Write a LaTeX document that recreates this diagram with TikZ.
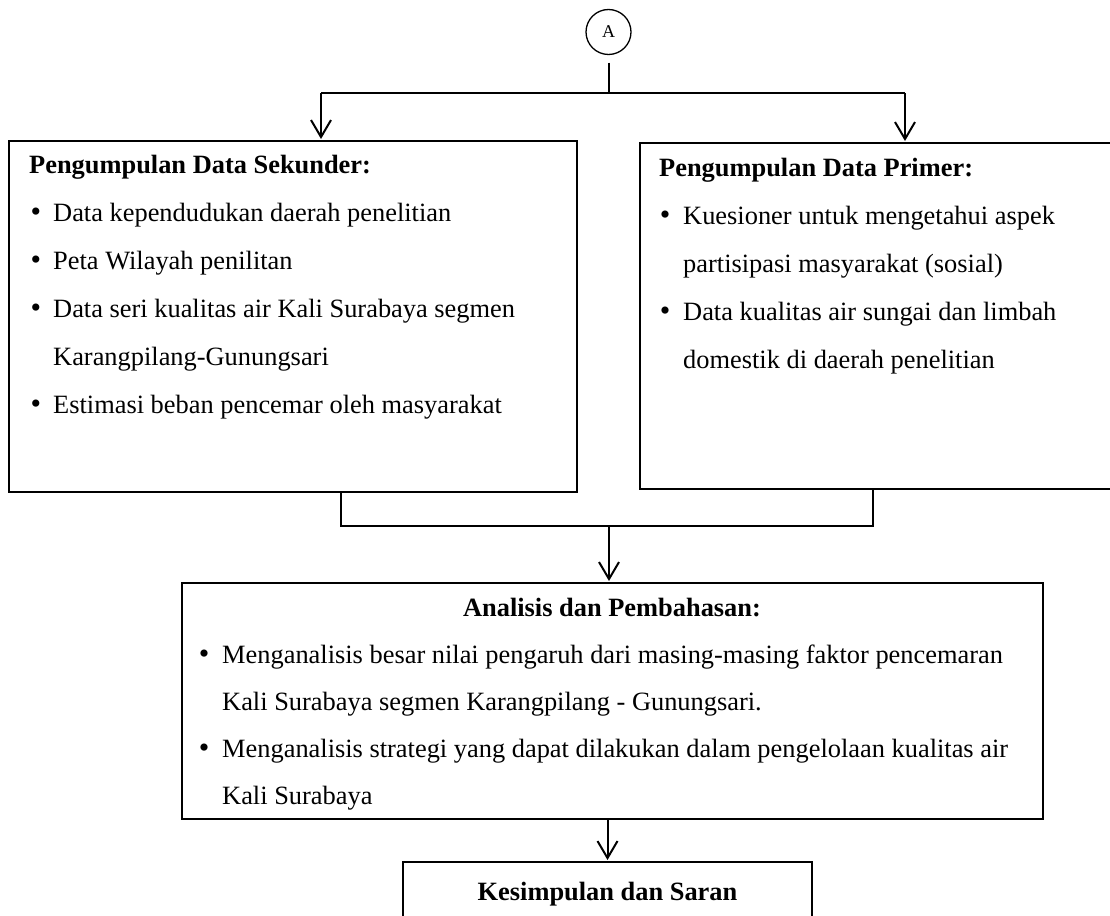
\documentclass[tikz,border=0pt]{standalone}
\usepackage{fontspec}
\setmainfont{Liberation Serif}
\usetikzlibrary{arrows.meta}

\begin{document}
\begin{tikzpicture}[x=1pt,y=-1pt,
  box/.style={draw, rectangle, line width=2pt, inner sep=0pt, outer sep=0pt, anchor=north west},
  conn/.style={line width=2pt},
  arr/.style={-{Straight Barb[length=17pt,width=20pt]}, shorten >=2pt},
  txt/.style={anchor=base west, inner sep=0pt, font=\fontsize{26.4}{30}\selectfont},
  ttl/.style={txt, font=\fontsize{26.4}{30}\selectfont\bfseries},
  ctl/.style={ttl, anchor=base},
  bul/.style={anchor=base, inner sep=0pt, font=\fontsize{30}{30}\selectfont}
]
\useasboundingbox (0,0) rectangle (1110,915);

% connector circle
\node[draw, circle, line width=1.3pt, minimum size=45pt, inner sep=0pt,
      font=\fontsize{18}{18}\selectfont] (A) at (608.5,32) {A};

% boxes
\node[box, minimum width=568pt, minimum height=351pt] (sek) at (9,141) {};
\node[box, minimum width=490pt, minimum height=346pt] (prim) at (640,143) {};
\node[box, minimum width=861pt, minimum height=236pt] (ana) at (182,583) {};
\node[box, minimum width=409pt, minimum height=80pt] (kes) at (403,862) {};

% secondary data
\node[ttl] (sekT) at (29,173) {Pengumpulan Data Sekunder:};
\node[bul] (sekB1) at (36,221) {\textbullet};
\node[txt] (sek1) at (53,221) {Data kependudukan daerah penelitian};
\node[bul] (sekB2) at (36,269) {\textbullet};
\node[txt] (sek2) at (53,269) {Peta Wilayah penilitan};
\node[bul] (sekB3) at (36,317) {\textbullet};
\node[txt] (sek3) at (53,317) {Data seri kualitas air Kali Surabaya segmen};
\node[txt] (sek3b) at (53,365) {Karangpilang-Gunungsari};
\node[bul] (sekB4) at (36,413) {\textbullet};
\node[txt] (sek4) at (53,413) {Estimasi beban pencemar oleh masyarakat};

% primary data
\node[ttl] (primT) at (659,176) {Pengumpulan Data Primer:};
\node[bul] (primB1) at (665,224) {\textbullet};
\node[txt] (prim1) at (683,224) {Kuesioner untuk mengetahui aspek};
\node[txt] (prim1b) at (683,272) {partisipasi masyarakat (sosial)};
\node[bul] (primB2) at (665,320) {\textbullet};
\node[txt] (prim2) at (683,320) {Data kualitas air sungai dan limbah};
\node[txt] (prim2b) at (683,368) {domestik di daerah penelitian};

% analysis
\node[ctl] (anaT) at (612,616) {Analisis dan Pembahasan:};
\node[bul] (anaB1) at (204,663) {\textbullet};
\node[txt] (ana1) at (222,663) {Menganalisis besar nilai pengaruh dari masing-masing faktor pencemaran};
\node[txt] (ana1b) at (222,710) {Kali Surabaya segmen Karangpilang - Gunungsari.};
\node[bul] (anaB2) at (204,757) {\textbullet};
\node[txt] (ana2) at (222,757) {Menganalisis strategi yang dapat dilakukan dalam pengelolaan kualitas air};
\node[txt] (ana2b) at (222,804) {Kali Surabaya};

% conclusion
\node[ctl] (kesT) at (607.5,900) {Kesimpulan dan Saran};

% split below the circle
\coordinate (topL) at (321,93);
\coordinate (topR) at (905,93);
\draw[conn, shorten <=7.5pt] (A) -- (A |- topL);
\draw[conn] (topL) -- (topR);
\draw[conn, arr] (topL) -- (topL |- sek.north);
\draw[conn, arr] (topR) -- (topR |- prim.north);

% merge into analysis
\coordinate (botL) at (341,526);
\coordinate (botR) at (873,526);
\coordinate (botM) at (609,526);
\draw[conn] (botL |- sek.south) -- (botL) -- (botR) -- (botR |- prim.south);
\draw[conn, arr] (botM) -- (botM |- ana.north);

% analysis to conclusion
\draw[conn, arr] (kes.north |- ana.south) -- (kes.north);
\end{tikzpicture}
\end{document}
